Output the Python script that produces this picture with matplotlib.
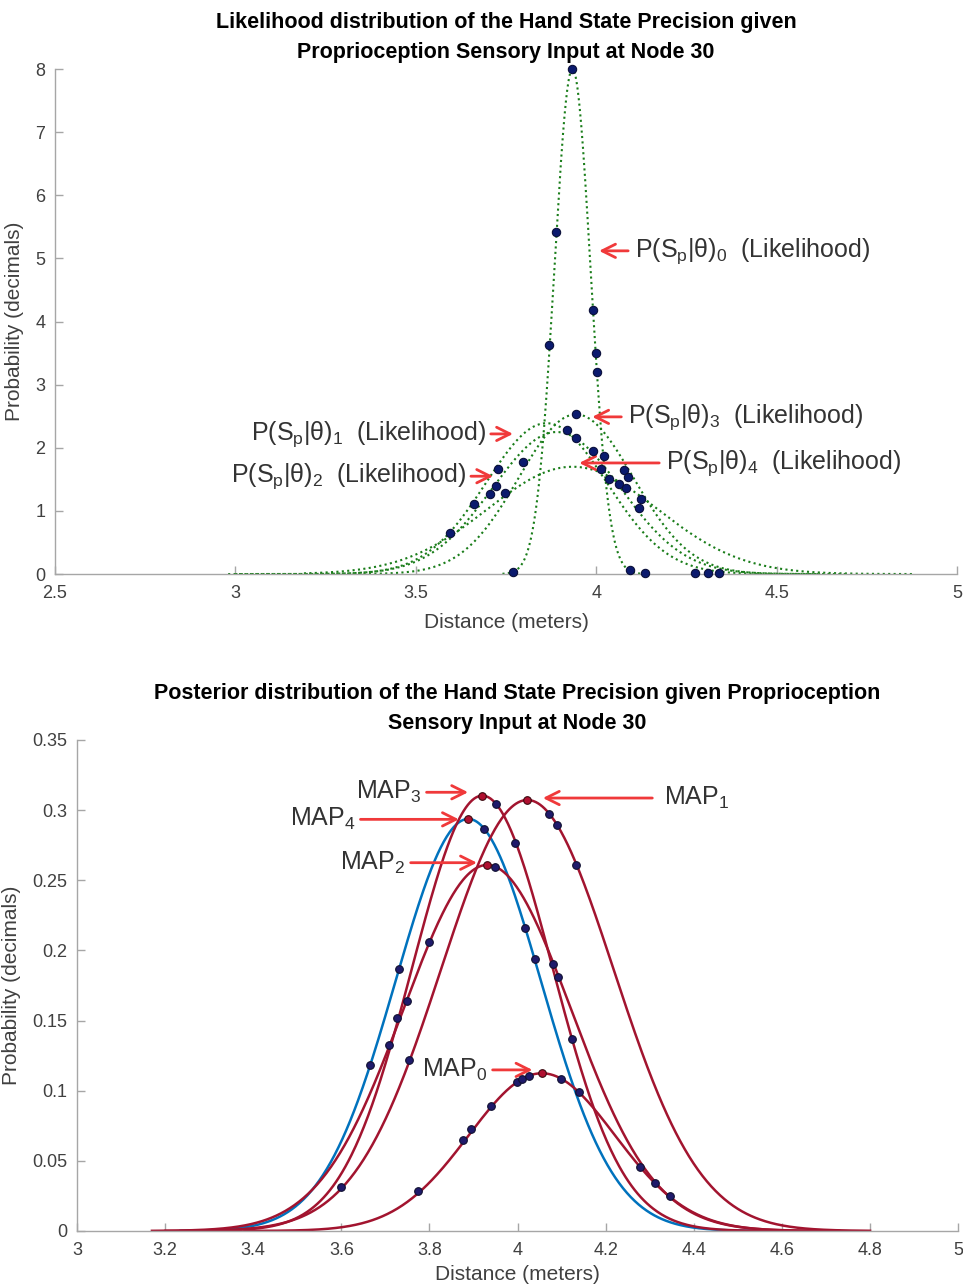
import numpy as np
import matplotlib
matplotlib.use("Agg")
import matplotlib.pyplot as plt

plt.rcParams['font.family'] = ['Liberation Sans', 'DejaVu Sans']
plt.rcParams['mathtext.fontset'] = 'custom'

# ---- likelihood curves (top): peak position, height, width
lik_mu = [3.934, 3.862, 3.890, 3.944, 3.934]
lik_amp = [8.0, 2.39, 2.25, 2.53, 1.70]
lik_sigma = [0.050, 0.167, 0.177, 0.158, 0.235]
lik_lo = [3.74, 2.98, 3.00, 3.19, 3.19]
lik_hi = [4.14, 4.62, 4.70, 4.62, 4.88]

lik_pts_x = [3.934, 3.887, 3.868, 3.992, 4.000, 4.003, 3.944, 3.920, 3.945, 3.990,
             4.020, 4.013, 4.034, 4.077, 4.088, 4.063, 4.082, 4.125, 4.117, 3.796,
             3.728, 3.722, 3.705, 3.747, 3.662, 3.596, 3.769, 4.093, 4.135, 4.273,
             4.309, 4.340]
lik_pts_y = [8.00, 5.42, 3.63, 4.18, 3.50, 3.20, 2.53, 2.28, 2.16, 1.95,
             1.87, 1.67, 1.50, 1.65, 1.54, 1.43, 1.36, 1.19, 1.05, 1.78,
             1.66, 1.40, 1.27, 1.29, 1.11, 0.65, 0.04, 0.06, 0.01, 0.01,
             0.01, 0.01]

# (text index, tail x, head x, y, side)
lik_notes = [(0, 4.096, 4.000, 5.12, 'r'),
             (3, 4.077, 3.981, 2.49, 'r'),
             (4, 4.182, 3.945, 1.76, 'r'),
             (1, 3.700, 3.777, 2.22, 'l'),
             (2, 3.645, 3.722, 1.55, 'l')]

# ---- posterior curves (bottom)
post_mu = [4.055, 4.022, 3.931, 3.920, 3.888]
post_amp = [0.1124, 0.3072, 0.2609, 0.3103, 0.2937]
post_sigma = [0.166, 0.196, 0.190, 0.159, 0.165]
post_lo = [3.38, 3.30, 3.17, 3.20, 3.235]
post_hi = [4.73, 4.80, 4.72, 4.60, 4.56]
post_color = ['#a2142f', '#a2142f', '#a2142f', '#a2142f', '#0072bd']

post_pts_x = [3.731, 3.800, 3.748, 3.726, 3.708, 3.666, 3.753, 3.600, 3.773, 3.877,
              3.895, 3.939, 3.998, 4.009, 4.026, 4.098, 4.139, 3.952, 4.072, 4.090,
              4.133, 3.923, 3.948, 3.995, 4.017, 4.039, 4.081, 4.092, 4.123, 4.278,
              4.312, 4.346]
post_pts_y = [0.1865, 0.2060, 0.1637, 0.1516, 0.1324, 0.1183, 0.1219, 0.0311, 0.0282, 0.0649,
              0.0725, 0.0893, 0.1064, 0.1083, 0.1105, 0.1083, 0.0989, 0.3041, 0.2972, 0.2896,
              0.2611, 0.2868, 0.2597, 0.2763, 0.2158, 0.1939, 0.1905, 0.1813, 0.1366, 0.0458,
              0.0344, 0.0249]

map_x = [4.055, 4.022, 3.931, 3.920, 3.888]
map_y = [0.1124, 0.3072, 0.2609, 0.3103, 0.2937]

# (index, tail x, head x, y, side)
map_notes = [(0, 3.937, 4.040, 0.1148, 'l'),
             (1, 4.312, 4.051, 0.3086, 'r'),
             (2, 3.751, 3.914, 0.2625, 'l'),
             (3, 3.787, 3.894, 0.3127, 'l'),
             (4, 3.637, 3.873, 0.2934, 'l')]

GRAY = '#a6a6a6'
TXT = '#404040'
ARROW = '#f0393a'


def style_axes(ax):
    for s in ['top', 'right']:
        ax.spines[s].set_visible(False)
    for s in ['left', 'bottom']:
        ax.spines[s].set_color(GRAY)
        ax.spines[s].set_linewidth(1.0)
    ax.tick_params(direction='in', length=6, width=1, color=GRAY,
                   labelcolor=TXT, labelsize=13)
    ax.tick_params(axis='x', pad=8)
    ax.tick_params(axis='y', pad=7)


fig = plt.figure(figsize=(9.63, 12.88), dpi=100)

# ------------------ top: likelihood ------------------
ax1 = fig.add_axes([0.057, 0.5543, 0.937, 0.3921])
for i in range(5):
    xs = np.linspace(lik_lo[i], lik_hi[i], 1500 if i == 0 else 900)
    ys = lik_amp[i] * np.exp(-0.5 * ((xs - lik_mu[i]) / lik_sigma[i]) ** 2)
    ax1.plot(xs, ys, color='#1a7d1a', lw=1.5, ls=(0, (1, 1.6)))
ax1.plot(lik_pts_x, lik_pts_y, 'o', ms=6, mfc='#0b1a6e', mec='#0a0f3a', mew=0.8,
         clip_on=False, zorder=5)

for idx, tail, head, y, side in lik_notes:
    ax1.annotate('', xy=(head, y), xytext=(tail, y),
                 arrowprops=dict(arrowstyle='->', color=ARROW, lw=2, mutation_scale=24))
    label = r'P(S$_\mathregular{p}$|θ)$_\mathregular{%d}$  (Likelihood)' % idx
    if side == 'r':
        ax1.text(tail + 0.012, y, label, ha='left', va='center', fontsize=18,
                 color='#333333')
    else:
        ax1.text(tail - 0.005, y, label, ha='right', va='center', fontsize=18,
                 color='#333333')

ax1.set_xlim(2.5, 5)
ax1.set_ylim(0, 8)
ax1.set_xticks([2.5, 3, 3.5, 4, 4.5, 5])
ax1.set_xticklabels(['2.5', '3', '3.5', '4', '4.5', '5'])
ax1.set_yticks(range(0, 9))
style_axes(ax1)
ax1.set_xlabel('Distance (meters)', fontsize=15, color=TXT, labelpad=8)
ax1.set_ylabel('Probability (decimals)', fontsize=15, color=TXT, labelpad=8)
ax1.set_title('Likelihood distribution of the Hand State Precision given\n'
              'Proprioception Sensory Input at Node 30',
              fontsize=15.5, fontweight='bold', color='black', pad=8, linespacing=1.55)

# ------------------ bottom: posterior ------------------
ax2 = fig.add_axes([0.080, 0.0443, 0.915, 0.3812])
for i in [4, 0, 1, 2, 3]:
    xs = np.linspace(post_lo[i], post_hi[i], 600)
    ys = post_amp[i] * np.exp(-0.5 * ((xs - post_mu[i]) / post_sigma[i]) ** 2)
    ax2.plot(xs, ys, color=post_color[i], lw=1.8)
ax2.plot(post_pts_x, post_pts_y, 'o', ms=5.5, mfc='#1f1a6b', mec='#101030', mew=0.8, zorder=5)
ax2.plot(map_x, map_y, 'o', ms=5.5, mfc='#b01030', mec='#3a0a10', mew=0.8, zorder=6)

for idx, tail, head, y, side in map_notes:
    ax2.annotate('', xy=(head, y), xytext=(tail, y),
                 arrowprops=dict(arrowstyle='->', color=ARROW, lw=2, mutation_scale=24))
    label = r'MAP$_\mathregular{%d}$' % idx
    if side == 'r':
        ax2.text(tail + 0.02, y, label, ha='left', va='center', fontsize=18,
                 color='#333333')
    else:
        ax2.text(tail - 0.005, y, label, ha='right', va='center', fontsize=18,
                 color='#333333')

ax2.set_xlim(3, 5)
ax2.set_ylim(0, 0.35)
xt = [3, 3.2, 3.4, 3.6, 3.8, 4, 4.2, 4.4, 4.6, 4.8, 5]
ax2.set_xticks(xt)
ax2.set_xticklabels(['3', '3.2', '3.4', '3.6', '3.8', '4', '4.2', '4.4', '4.6', '4.8', '5'])
yt = [0, 0.05, 0.1, 0.15, 0.2, 0.25, 0.3, 0.35]
ax2.set_yticks(yt)
ax2.set_yticklabels(['0', '0.05', '0.1', '0.15', '0.2', '0.25', '0.3', '0.35'])
style_axes(ax2)
ax2.set_xlabel('Distance (meters)', fontsize=15, color=TXT, labelpad=4)
ax2.set_ylabel('Probability (decimals)', fontsize=15, color=TXT, labelpad=8)
ax2.set_title('Posterior distribution of the Hand State Precision given Proprioception\n'
              'Sensory Input at Node 30',
              fontsize=15.5, fontweight='bold', color='black', pad=8, linespacing=1.55)

fig.savefig('out.png', dpi=100, facecolor='white')
